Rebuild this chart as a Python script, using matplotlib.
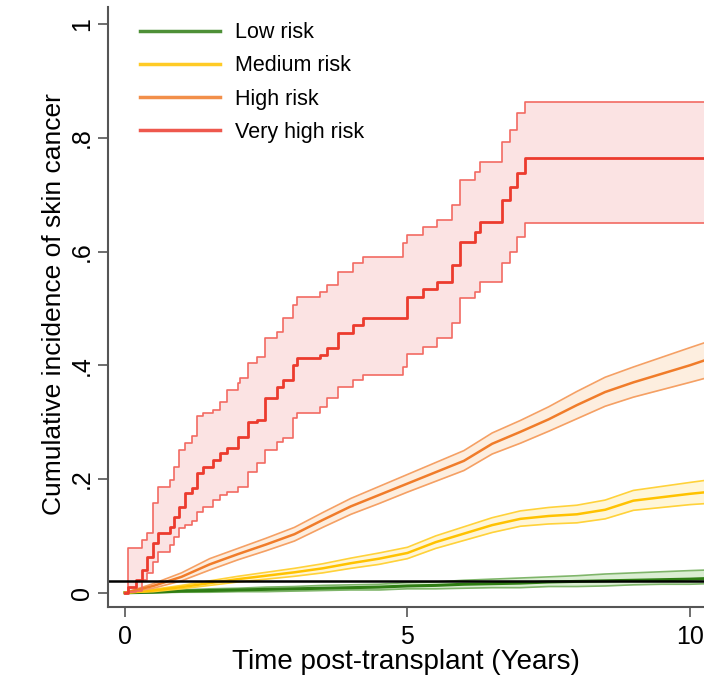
import matplotlib
matplotlib.use('Agg')
import matplotlib.pyplot as plt

plt.rcParams['font.family'] = ['Liberation Sans', 'DejaVu Sans']

labels = ['Low risk', 'Medium risk', 'High risk', 'Very high risk']

# very high risk: step function (time, estimate, lower CI, upper CI)
red_t = [0, 0.05, 0.20, 0.30, 0.39, 0.50, 0.58, 0.80, 0.87, 0.96, 1.06, 1.18, 1.27, 1.38,
         1.56, 1.68, 1.80, 2.00, 2.04, 2.18, 2.33, 2.48, 2.69, 2.80, 2.98, 3.04, 3.45, 3.58,
         3.77, 4.04, 4.21, 4.93, 5.00, 5.27, 5.52, 5.79, 5.93, 6.19, 6.28, 6.68, 6.81, 6.94,
         7.08, 10.3]
red_est = [0, 0.010, 0.023, 0.040, 0.063, 0.088, 0.105, 0.116, 0.133, 0.151, 0.176, 0.185,
           0.210, 0.222, 0.234, 0.246, 0.255, 0.274, 0.274, 0.300, 0.304, 0.343, 0.362, 0.374,
           0.400, 0.413, 0.418, 0.430, 0.457, 0.470, 0.483, 0.483, 0.520, 0.534, 0.547, 0.576,
           0.617, 0.634, 0.652, 0.690, 0.714, 0.738, 0.764, 0.764]
red_lo = [0, 0.001, 0.004, 0.023, 0.035, 0.054, 0.072, 0.084, 0.098, 0.114, 0.120, 0.126,
          0.142, 0.151, 0.163, 0.172, 0.177, 0.186, 0.186, 0.213, 0.228, 0.251, 0.265, 0.272,
          0.308, 0.316, 0.327, 0.343, 0.362, 0.374, 0.383, 0.397, 0.420, 0.432, 0.448, 0.474,
          0.518, 0.529, 0.547, 0.580, 0.600, 0.626, 0.650, 0.650]
red_hi = [0, 0.079, 0.079, 0.093, 0.105, 0.158, 0.186, 0.199, 0.222, 0.251, 0.263, 0.275,
          0.310, 0.316, 0.322, 0.336, 0.357, 0.369, 0.378, 0.404, 0.415, 0.448, 0.459, 0.483,
          0.506, 0.520, 0.529, 0.541, 0.564, 0.580, 0.590, 0.615, 0.629, 0.643, 0.655, 0.682,
          0.726, 0.740, 0.757, 0.793, 0.814, 0.843, 0.863, 0.863]

# high, medium and low risk read every half year
t = [0, 0.5, 1, 1.5, 2, 2.5, 3, 3.5, 4, 4.5, 5, 5.5, 6, 6.5, 7, 7.5, 8, 8.5, 9, 9.5, 10, 10.3]

orange_est = [0, 0.012, 0.028, 0.050, 0.068, 0.085, 0.103, 0.128, 0.152, 0.172, 0.192, 0.212,
              0.232, 0.262, 0.283, 0.305, 0.330, 0.353, 0.370, 0.385, 0.400, 0.410]
orange_lo = [0, 0.008, 0.021, 0.040, 0.058, 0.074, 0.091, 0.115, 0.138, 0.157, 0.177, 0.196,
             0.215, 0.244, 0.263, 0.284, 0.306, 0.328, 0.344, 0.357, 0.370, 0.378]
orange_hi = [0, 0.016, 0.035, 0.060, 0.078, 0.096, 0.115, 0.141, 0.166, 0.187, 0.208, 0.229,
             0.250, 0.281, 0.303, 0.327, 0.354, 0.379, 0.397, 0.414, 0.431, 0.441]

yellow_est = [0, 0.004, 0.010, 0.017, 0.024, 0.030, 0.036, 0.043, 0.052, 0.060, 0.070, 0.089,
              0.104, 0.119, 0.130, 0.135, 0.138, 0.146, 0.162, 0.168, 0.174, 0.177]
yellow_lo = [0, 0.002, 0.007, 0.013, 0.019, 0.024, 0.029, 0.035, 0.043, 0.050, 0.060, 0.078,
             0.092, 0.106, 0.117, 0.121, 0.123, 0.130, 0.145, 0.150, 0.155, 0.157]
yellow_hi = [0, 0.006, 0.013, 0.021, 0.029, 0.036, 0.043, 0.051, 0.061, 0.070, 0.080, 0.100,
             0.116, 0.132, 0.144, 0.150, 0.154, 0.163, 0.180, 0.187, 0.194, 0.198]

green_est = [0, 0.001, 0.003, 0.004, 0.005, 0.006, 0.007, 0.008, 0.009, 0.010, 0.012, 0.013,
             0.015, 0.016, 0.017, 0.019, 0.020, 0.021, 0.022, 0.023, 0.024, 0.025]
green_lo = [0, 0.000, 0.001, 0.001, 0.002, 0.002, 0.003, 0.004, 0.005, 0.005, 0.007, 0.007,
            0.008, 0.009, 0.009, 0.011, 0.011, 0.012, 0.014, 0.015, 0.015, 0.016]
green_hi = [0, 0.002, 0.005, 0.007, 0.008, 0.010, 0.011, 0.013, 0.014, 0.015, 0.018, 0.019,
            0.022, 0.024, 0.026, 0.028, 0.030, 0.033, 0.035, 0.037, 0.039, 0.040]

ref_line = 0.021

fig = plt.figure(figsize=(7.04, 6.79), dpi=100)
ax = fig.add_axes([108 / 704, 1 - 607 / 679, 1 - 108 / 704, (607 - 7) / 679])

# green
ax.fill_between(t, green_lo, green_hi, color='#dbeed3', lw=0)
ax.plot(t, green_lo, color='#7fb56a', lw=1.2)
ax.plot(t, green_hi, color='#7fb56a', lw=1.2)
ax.plot(t, green_est, color='#2f7d14', lw=2.2, label=labels[0])

# yellow
ax.fill_between(t, yellow_lo, yellow_hi, color='#fff6d8', lw=0)
ax.plot(t, yellow_lo, color='#ffd23a', lw=1.2)
ax.plot(t, yellow_hi, color='#ffd23a', lw=1.2)
ax.plot(t, yellow_est, color='#ffc200', lw=1.8, label=labels[1])

# orange
ax.fill_between(t, orange_lo, orange_hi, color='#fdeedf', lw=0)
ax.plot(t, orange_lo, color='#f5a064', lw=1.2)
ax.plot(t, orange_hi, color='#f5a064', lw=1.2)
ax.plot(t, orange_est, color='#f07c2a', lw=1.8, label=labels[2])

# red
ax.fill_between(red_t, red_lo, red_hi, step='post', color='#fbe3e3', lw=0)
ax.step(red_t, red_lo, where='post', color='#f26a62', lw=1.2)
ax.step(red_t, red_hi, where='post', color='#f26a62', lw=1.2)
ax.step(red_t, red_est, where='post', color='#ec3b2e', lw=2.0, label=labels[3])

ax.axhline(ref_line, color='black', lw=1.8)

ax.set_xlim(-0.3, 10.25)
ax.set_ylim(-0.025, 1.03)
ax.set_xticks([0, 5, 10])
ax.set_xticklabels(['0', '5', '10'])
ax.set_yticks([0, 0.2, 0.4, 0.6, 0.8, 1])
ax.set_yticklabels(['0', '.2', '.4', '.6', '.8', '1'], rotation=90, va='center')
ax.tick_params(direction='out', length=7, width=1.2, color='#555555', labelsize=18, pad=6)
ax.tick_params(axis='y', pad=3)
for s in ['top', 'right']:
    ax.spines[s].set_visible(False)
for s in ['left', 'bottom']:
    ax.spines[s].set_color('#555555')
    ax.spines[s].set_linewidth(1.5)

ax.set_xlabel('Time post-transplant (Years)', fontsize=20, labelpad=0)
ax.set_ylabel('Cumulative incidence of skin cancer', fontsize=19)
ax.yaxis.set_label_coords(-42 / 596, (607 - 304) / 600)

handles, labs = ax.get_legend_handles_labels()
leg = ax.legend(handles, labs, loc='upper left', bbox_to_anchor=(0.022, 1.007), frameon=False,
                fontsize=15.5, handlelength=3.7, labelspacing=0.57, handletextpad=0.7)
for h in leg.get_lines():
    h.set_linewidth(2.5)
    h.set_alpha(0.85)

fig.savefig('out.png', dpi=100)
